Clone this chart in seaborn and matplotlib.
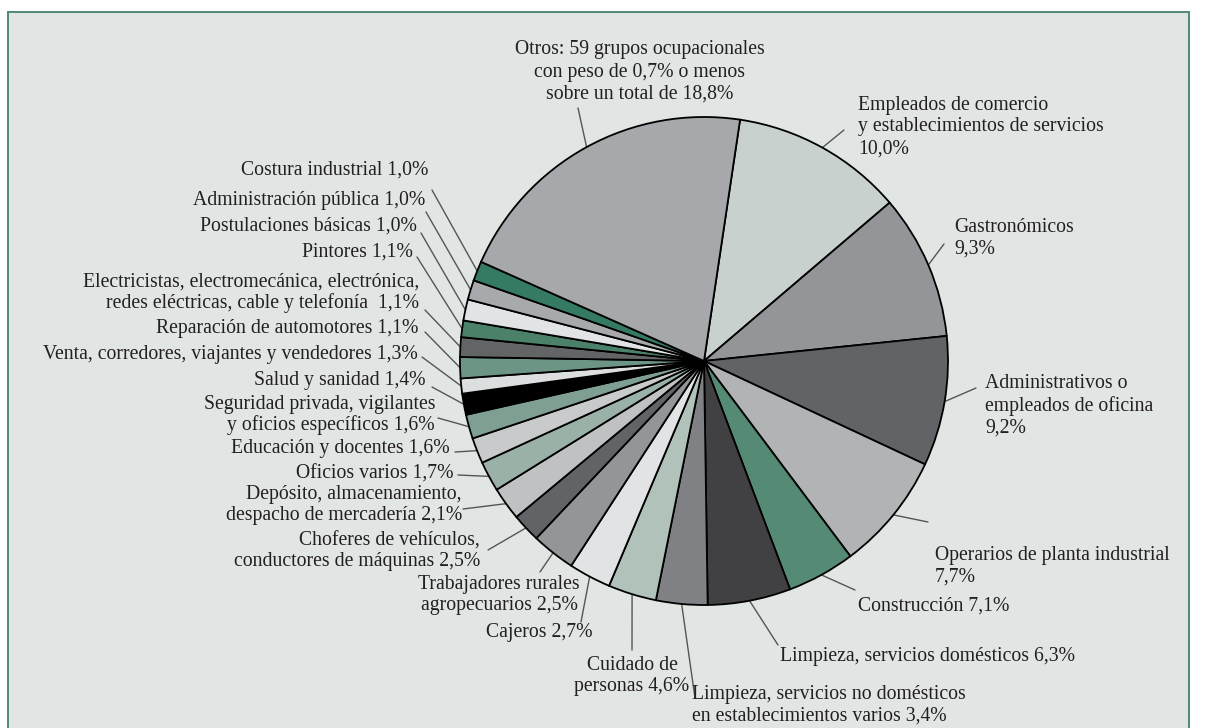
import numpy as np
import matplotlib
matplotlib.use("Agg")
import matplotlib.pyplot as plt
from matplotlib.patches import Rectangle
import seaborn as sns

# ---------------- data (clockwise from the top) ----------------
categories = [
    "Empleados de comercio\ny establecimientos de servicios\n10,0%",
    "Gastronómicos\n9,3%",
    "Administrativos o\nempleados de oficina\n9,2%",
    "Operarios de planta industrial\n7,7%",
    "Construcción 7,1%",
    "Limpieza, servicios domésticos 6,3%",
    "Limpieza, servicios no domésticos\nen establecimientos varios 3,4%",
    "Cuidado de\npersonas 4,6%",
    "Cajeros 2,7%",
    "Trabajadores rurales\nagropecuarios 2,5%",
    "Choferes de vehículos,\nconductores de máquinas 2,5%",
    "Depósito, almacenamiento,\ndespacho de mercadería 2,1%",
    "Oficios varios 1,7%",
    "Educación y docentes 1,6%",
    "Seguridad privada, vigilantes\ny oficios específicos 1,6%",
    "Salud y sanidad 1,4%",
    "Venta, corredores, viajantes y vendedores 1,3%",
    "Reparación de automotores 1,1%",
    "Electricistas, electromecánica, electrónica,\nredes eléctricas, cable y telefonía  1,1%",
    "Pintores 1,1%",
    "Postulaciones básicas 1,0%",
    "Administración pública 1,0%",
    "Costura industrial 1,0%",
    "Otros: 59 grupos ocupacionales\ncon peso de 0,7% o menos\nsobre un total de 18,8%",
]

# slice sizes as drawn in the picture (percent)
shares = [11.4, 9.6, 8.6, 7.8, 4.5, 5.5, 3.4, 3.2, 2.8, 2.9, 1.9, 2.2,
          2.0, 1.7, 1.6, 1.4, 1.0, 1.4, 1.3, 1.1, 1.4, 1.3, 1.3, 20.7]

slice_colors = ["#c8d1cd", "#939598", "#626366", "#b1b3b5", "#558a75", "#414143",
                "#808184", "#b1c2bb", "#e1e3e4", "#939598", "#626366", "#c0c1c3",
                "#9ab1a8", "#c9cacb", "#7f9f93", "#000000", "#dcdedf", "#6c9585",
                "#636466", "#4b8169", "#e1e3e4", "#a8a9ac", "#357a63", "#a7a8ab"]

# ---------------- layout (pixel coordinates, y downward) ----------------
W, H = 1206, 728
CX, CY, R = 704, 361, 244
START = 81.5

# label anchor (x, y, ha, line spacing) and leader outer end (x, y)
label_pos = [
    (858, 127, "left", 1.2), (954, 238, "left", 1.2), (985, 406, "left", 1.2),
    (935, 566, "left", 1.2), (858, 606, "left", 1.2), (780, 656, "left", 1.2),
    (692, 705, "left", 1.2), (632, 676, "center", 1.2), (592, 633, "right", 1.2),
    (499, 595, "center", 1.12), (480, 551, "right", 1.12), (462, 505, "right", 1.12),
    (453, 474, "right", 1.12), (450, 449, "right", 1.12), (435, 415, "right", 1.12),
    (425, 380, "right", 1.12), (418, 355, "right", 1.12), (418, 328, "right", 1.12),
    (419, 293, "right", 1.12), (413, 252, "right", 1.12), (417, 226, "right", 1.12),
    (425, 200, "right", 1.12), (428, 170, "right", 1.12), (640, 72, "center", 1.22),
]
leader_end = [
    (844, 130), (944, 244), (976, 388), (928, 522), (855, 590), (778, 645),
    (695, 698), (632, 650), (581, 622), (540, 572), (488, 550), (463, 509),
    (458, 475), (455, 452), (438, 418), (432, 387), (422, 357), (425, 332),
    (425, 310), (417, 257), (421, 233), (426, 212), (432, 190), (578, 108),
]

sns.set_theme(style="white")
plt.rcParams["font.family"] = ["Liberation Serif", "DejaVu Serif"]

fig = plt.figure(figsize=(W / 100, H / 100), dpi=100)
fig.patch.set_facecolor("white")
ax = fig.add_axes([0, 0, 1, 1])

# panel background with thin green frame (bottom edge runs off the picture)
ax.add_patch(Rectangle((8, -10), 1189 - 8, (H - 12) + 10, facecolor="#e1e5e3",
                       edgecolor="#4f8a74", linewidth=1.4, zorder=0))

wedges, _ = ax.pie(shares, colors=slice_colors, startangle=START, counterclock=False,
                   center=(CX, H - CY), radius=R,
                   wedgeprops=dict(edgecolor="black", linewidth=1.3))
for w in wedges:
    w.set_zorder(2)

text_color = "#231f20"
for w, lab, (tx, ty, ha, ls), (ex, ey) in zip(wedges, categories, label_pos, leader_end):
    mid = np.deg2rad((w.theta1 + w.theta2) / 2)
    x0 = CX + R * np.cos(mid)
    y0 = CY - R * np.sin(mid)
    ax.plot([x0, ex], [H - y0, H - ey], color="#555555", linewidth=1.0, zorder=1)
    ax.text(tx, H - ty, lab, ha=ha, va="center", fontsize=14.2, color=text_color,
            linespacing=ls, zorder=3)

ax.set_xlim(0, W)
ax.set_ylim(0, H)
ax.set_aspect("equal")
ax.axis("off")

fig.savefig("out.png", dpi=100, facecolor="white")
